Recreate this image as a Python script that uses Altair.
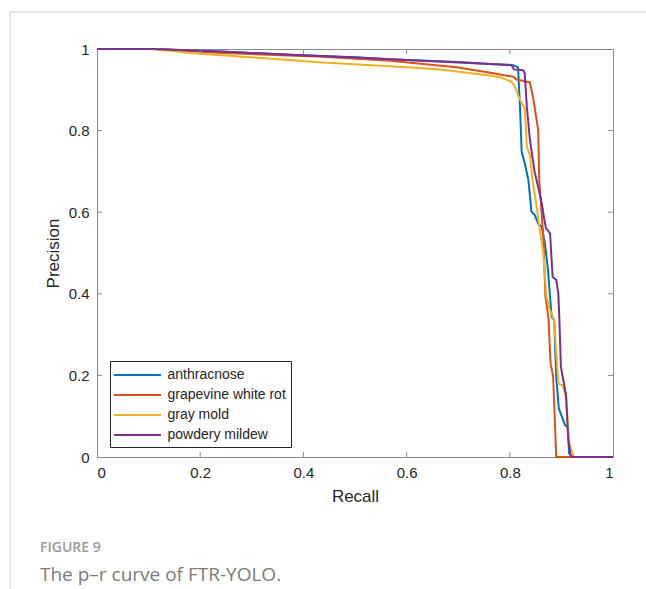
import altair as alt
import pandas as pd

series = ["anthracnose", "grapevine white rot", "gray mold", "powdery mildew"]
colors = ["#0072BD", "#D95319", "#EDB120", "#7E2F8E"]

anth_r = [0, 0.11, 0.25, 0.374, 0.5, 0.568, 0.7, 0.762, 0.807, 0.816, 0.82, 0.823, 0.829, 0.836,
          0.842, 0.848, 0.855, 0.862, 0.868, 0.874, 0.881, 0.886, 0.89, 0.895, 0.907, 0.912, 0.915, 0.92, 1.0]
anth_p = [1, 1, 0.993, 0.986, 0.98, 0.975, 0.968, 0.963, 0.96, 0.955, 0.85, 0.748, 0.72, 0.679,
          0.601, 0.594, 0.572, 0.564, 0.524, 0.458, 0.344, 0.335, 0.197, 0.119, 0.078, 0.074, 0.009, 0, 0]

grape_r = [0, 0.11, 0.245, 0.438, 0.568, 0.697, 0.762, 0.807, 0.813, 0.839, 0.846, 0.855, 0.857,
           0.865, 0.869, 0.875, 0.879, 0.884, 0.89, 1.0]
grape_p = [1, 1, 0.99, 0.981, 0.971, 0.955, 0.942, 0.932, 0.925, 0.918, 0.875, 0.801, 0.679,
           0.54, 0.393, 0.34, 0.23, 0.197, 0, 0]

mold_r = [0, 0.109, 0.18, 0.297, 0.438, 0.6, 0.665, 0.729, 0.762, 0.781, 0.803, 0.81, 0.816, 0.823,
          0.829, 0.833, 0.839, 0.844, 0.852, 0.857, 0.865, 0.871, 0.878, 0.886, 0.894, 0.902, 0.909,
          0.915, 0.924, 1.0]
mold_p = [1, 1, 0.99, 0.98, 0.967, 0.955, 0.95, 0.94, 0.935, 0.931, 0.92, 0.908, 0.887, 0.867,
          0.855, 0.761, 0.74, 0.679, 0.613, 0.565, 0.5, 0.393, 0.36, 0.335, 0.18, 0.176, 0.148,
          0.034, 0, 0]

mildew_r = [0, 0.11, 0.25, 0.374, 0.5, 0.568, 0.7, 0.762, 0.803, 0.808, 0.826, 0.829, 0.833, 0.839,
            0.848, 0.862, 0.866, 0.87, 0.878, 0.883, 0.89, 0.894, 0.896, 0.899, 0.909, 0.913, 0.917,
            0.92, 1.0]
mildew_p = [1, 1, 0.993, 0.986, 0.979, 0.975, 0.967, 0.963, 0.961, 0.95, 0.948, 0.94, 0.859, 0.777,
            0.70, 0.622, 0.589, 0.561, 0.548, 0.442, 0.434, 0.401, 0.34, 0.221, 0.152, 0.05, 0.009,
            0, 0]

tick_values = [0, 0.2, 0.4, 0.6, 0.8, 1]
inner_ticks = [0.2, 0.4, 0.6, 0.8]
fig_label = "FIGURE 9"
caption = "The p\u2013r curve of FTR-YOLO."

rows = []
for name, rs, ps in zip(series, [anth_r, grape_r, mold_r, mildew_r],
                        [anth_p, grape_p, mold_p, mildew_p]):
    for i, (r, p) in enumerate(zip(rs, ps)):
        rows.append({"series": name, "recall": r, "precision": p, "i": i})
df = pd.DataFrame(rows)
ticks_df = pd.DataFrame({"v": inner_ticks})

W, H = 516, 408
AX = "#8a8a8a"
TXT = "#262626"
FONT = "Liberation Sans"

xs = alt.Scale(domain=[0, 1], nice=False, zero=False)
ys = alt.Scale(domain=[0, 1], nice=False, zero=False)
x_axis = alt.Axis(values=tick_values, format=".1~f", title="Recall",
                  labelPadding=8, titlePadding=8)
y_axis = alt.Axis(values=tick_values, format=".1~f", title="Precision",
                  labelPadding=8, titlePadding=6)

lines = alt.Chart(df).mark_line(strokeWidth=2).encode(
    x=alt.X("recall:Q", scale=xs, axis=x_axis),
    y=alt.Y("precision:Q", scale=ys, axis=y_axis),
    color=alt.Color("series:N", scale=alt.Scale(domain=series, range=colors),
                    legend=alt.Legend(title=None, orient="none", legendX=13, legendY=312,
                                      symbolType="M-3,0H3", symbolSize=245,
                                      symbolStrokeWidth=2, symbolOffset=13.5,
                                      labelOffset=21, rowPadding=4, padding=5,
                                      strokeColor=TXT, fillColor="white",
                                      labelFont=FONT, labelFontSize=14, labelColor=TXT,
                                      cornerRadius=0)),
    order="i:Q",
)

base_t = alt.Chart(ticks_df)
tb = base_t.mark_rule(color=AX).encode(x=alt.X("v:Q", scale=xs, axis=x_axis),
                                       y=alt.value(H), y2=alt.value(H - 5))
tt = base_t.mark_rule(color=AX).encode(x=alt.X("v:Q", scale=xs, axis=x_axis),
                                       y=alt.value(0), y2=alt.value(5))
tl = base_t.mark_rule(color=AX).encode(y=alt.Y("v:Q", scale=ys, axis=y_axis),
                                       x=alt.value(0), x2=alt.value(5))
tr = base_t.mark_rule(color=AX).encode(y=alt.Y("v:Q", scale=ys, axis=y_axis),
                                       x=alt.value(W), x2=alt.value(W - 5))

fig_txt = alt.Chart(pd.DataFrame({"t": [fig_label]})).mark_text(
    align="left", baseline="middle", font="Open Sans", fontSize=14, fontWeight=600,
    color="#9a9a9a").encode(text="t:N", x=alt.value(-57), y=alt.value(499))
cap_txt = alt.Chart(pd.DataFrame({"t": [caption]})).mark_text(
    align="left", baseline="middle", font="Open Sans", fontSize=19,
    color="#7a7a7a").encode(text="t:N", x=alt.value(-57), y=alt.value(526))

border_top = alt.Chart(pd.DataFrame({"a": [0]})).mark_rule(color="#cccccc").encode(
    x=alt.value(-87), x2=alt.value(560), y=alt.value(-37))
border_left = alt.Chart(pd.DataFrame({"a": [0]})).mark_rule(color="#cccccc").encode(
    x=alt.value(-87), y=alt.value(-37), y2=alt.value(560))

chart = alt.layer(lines, tb, tt, tl, tr, fig_txt, cap_txt, border_top, border_left).properties(
    width=W, height=H,
    autosize=alt.AutoSizeParams(type="none"),
    padding={"left": 97, "top": 49, "right": 33, "bottom": 132},
    background="white",
).configure_view(stroke=AX, strokeWidth=1).configure_axis(
    domain=False, ticks=False, grid=False,
    labelFont=FONT, labelFontSize=15, labelColor=TXT,
    titleFont=FONT, titleFontSize=17, titleFontWeight="normal", titleColor=TXT,
)

chart.save("out.html", embed_options={"renderer": "svg", "actions": False})
